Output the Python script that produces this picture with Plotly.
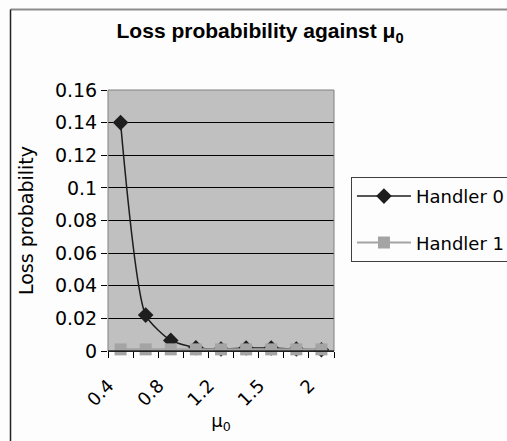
import plotly.graph_objects as go

mu0 = ["0.4", "0.6", "0.8", "1", "1.2", "1.3", "1.5", "1.8", "2"]
tick_labels = ["0.4", "", "0.8", "", "1.2", "", "1.5", "", "2"]
handler0 = [0.14, 0.022, 0.0065, 0.002, 0.0012, 0.0018, 0.0018, 0.0012, 0.0008]
handler1 = [0.001, 0.001, 0.001, 0.001, 0.001, 0.001, 0.001, 0.001, 0.001]
yticks = [0, 0.02, 0.04, 0.06, 0.08, 0.1, 0.12, 0.14, 0.16]
ytick_text = ["0", "0.02", "0.04", "0.06", "0.08", "0.1", "0.12", "0.14", "0.16"]

FONT = "DejaVu Sans"

fig = go.Figure()
fig.add_trace(go.Scatter(
    x=mu0, y=handler0, name="Handler 0", mode="lines+markers",
    line=dict(color="#1e1e1e", width=1.5, shape="spline", smoothing=0.6),
    marker=dict(symbol="diamond", size=12, color="#1e1e1e"),
    legendgroup="h0", legendrank=1, cliponaxis=False,
))
fig.add_trace(go.Scatter(
    x=mu0, y=handler1, name="Handler 1", mode="lines+markers",
    line=dict(color="#a4a4a4", width=2),
    marker=dict(symbol="square", size=12, color="#a4a4a4"),
    legendgroup="h1", legendrank=2, cliponaxis=False,
))

fig.update_layout(
    width=507, height=441,
    margin=dict(l=108, r=173, t=90, b=90, autoexpand=False),
    paper_bgcolor="#fdfdfd",
    plot_bgcolor="#c0c0c0",
    font=dict(family=FONT, size=18, color="#000000"),
    title=dict(text="Loss probabibility against μ<sub>0</sub>",
               x=0.513, xanchor="center", y=0.93, yanchor="middle",
               font=dict(family="Liberation Sans", size=21, color="#000000",
                         weight="bold")),
    showlegend=True,
    legend=dict(x=1.075, y=0.667, xanchor="left", yanchor="top",
                bgcolor="#fdfdfd", bordercolor="#404040", borderwidth=1,
                font=dict(family=FONT, size=18), tracegroupgap=20,
                traceorder="grouped", itemwidth=54),
    xaxis=dict(
        type="category", range=[-0.5, 8.5], tickmode="array", tickvals=mu0,
        ticktext=tick_labels, automargin=False,
        tickson="boundaries", ticks="outside", ticklen=6, tickcolor="#000000",
        tickangle=-45, ticklabelstandoff=16, ticklabelshift=-12,
        showgrid=False, showline=True, linecolor="#000000",
        linewidth=1, zeroline=False,
        title=dict(text="μ<sub>0</sub>", font=dict(size=18), standoff=2),
        tickfont=dict(size=18),
    ),
    yaxis=dict(
        range=[0, 0.16], tickmode="array", tickvals=yticks, ticktext=ytick_text,
        ticks="outside", ticklen=6, tickcolor="#000000", automargin=False,
        showgrid=True, gridcolor="#000000", gridwidth=1,
        showline=False, zeroline=False,
        title=dict(text="Loss probability", font=dict(size=19), standoff=16),
        tickfont=dict(size=19),
    ),
    shapes=[
        dict(type="rect", xref="paper", yref="paper", x0=0, y0=0, x1=1, y1=1,
             line=dict(color="#808080", width=1), layer="above"),
        dict(type="line", xref="paper", yref="paper", x0=0, y0=0, x1=1, y1=0,
             line=dict(color="#000000", width=1), layer="above"),
        dict(type="line", xref="paper", yref="paper",
             x0=-0.4314, y0=1.308, x1=1.8, y1=1.308,
             line=dict(color="#8c8c8c", width=2)),
        dict(type="line", xref="paper", yref="paper",
             x0=-0.4314, y0=1.308, x1=-0.4314, y1=-0.36,
             line=dict(color="#222222", width=1.5)),
    ],
)

fig.write_html("out.html")
